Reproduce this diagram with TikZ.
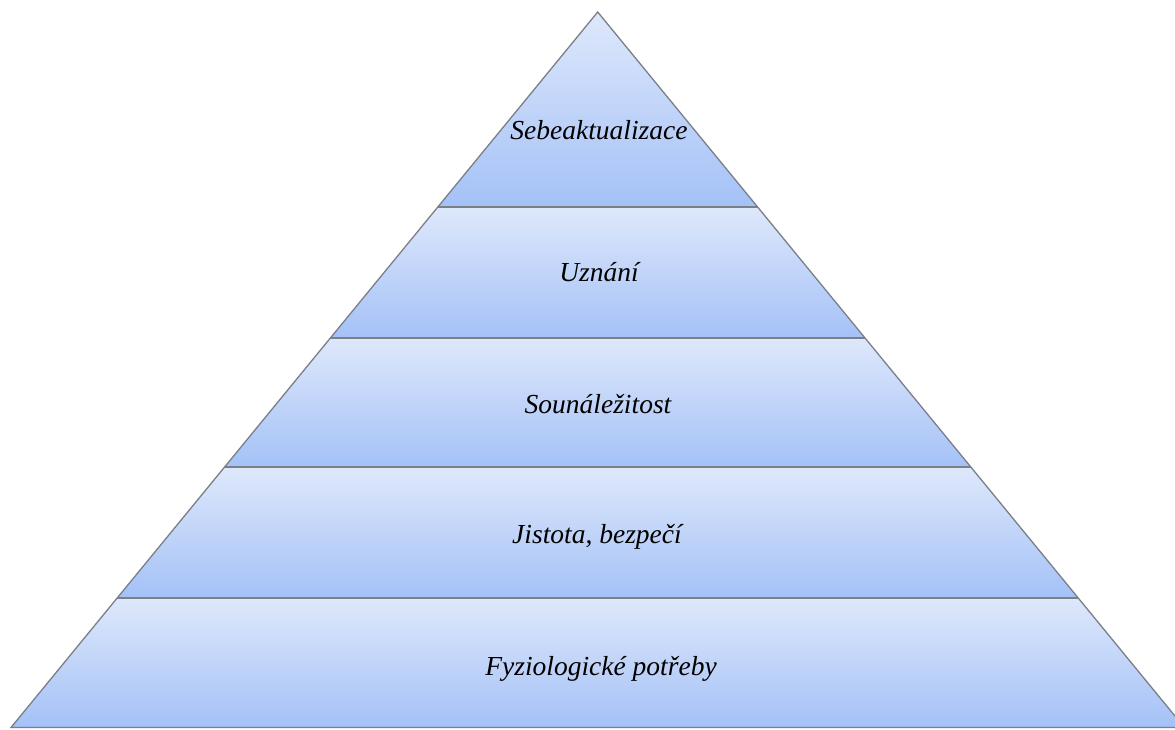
\documentclass[tikz,border=0pt]{standalone}
\usepackage{fontspec}
\setmainfont{Liberation Serif}
\definecolor{layertop}{HTML}{DEE8FB}
\definecolor{layerbot}{HTML}{A4C1F7}
\definecolor{edge}{HTML}{7A7F88}
\tikzset{
  layer/.style={top color=layertop, bottom color=layerbot},
  layeredge/.style={draw=edge, line width=1.3pt, line join=miter},
  label/.style={anchor=base, font=\fontsize{27.5}{33}\selectfont\itshape, text=black, inner sep=0pt}
}
\begin{document}
\begin{tikzpicture}[x=1pt,y=1pt]
\useasboundingbox (0,0) rectangle (1175,729);
\clip (0,0) rectangle (1175,729);
% layers (bottom to top)
\shade[layer] (11,1.5) -- (1184.4,1.5) -- (1078.2,131) -- (117.2,131) -- cycle;
\shade[layer] (117.2,131) -- (1078.2,131) -- (970.8,262) -- (224.6,262) -- cycle;
\shade[layer] (224.6,262) -- (970.8,262) -- (865.0,391) -- (330.4,391) -- cycle;
\shade[layer] (330.4,391) -- (865.0,391) -- (757.6,522) -- (437.8,522) -- cycle;
\shade[layer] (437.8,522) -- (757.6,522) -- (597.7,717) -- cycle;
% outlines
\draw[layeredge] (11,1.5) -- (597.7,717) -- (1184.4,1.5) -- cycle;
\draw[layeredge] (117.2,131) -- (1078.2,131);
\draw[layeredge] (224.6,262) -- (970.8,262);
\draw[layeredge] (330.4,391) -- (865.0,391);
\draw[layeredge] (437.8,522) -- (757.6,522);
% labels
\node[label] (l5) at (599,589.7) {Sebeaktualizace};
\node[label] (l4) at (599,447) {Uznání};
\node[label] (l3) at (598,316) {Sounáležitost};
\node[label] (l2) at (597,186) {Jistota, bezpečí};
\node[label] (l1) at (601,54) {Fyziologické potřeby};
\end{tikzpicture}
\end{document}
